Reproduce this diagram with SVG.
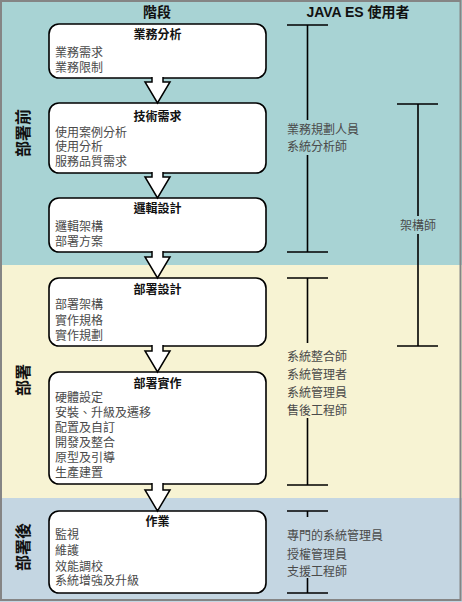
<svg xmlns="http://www.w3.org/2000/svg" width="462" height="602" viewBox="0 0 462 602">
<style>
.box{fill:#fff;stroke:#000;stroke-width:1.6}
.arr{fill:#fff;stroke:#000;stroke-width:1.5;stroke-linejoin:miter}
.br{stroke:#000;stroke-width:1.6;fill:none}
.t{font-family:"Liberation Sans","Noto Sans CJK TC",sans-serif;font-size:12px;font-weight:bold;fill:#111;text-anchor:middle}
.i{font-family:"Liberation Sans","Noto Sans CJK TC",sans-serif;font-size:12px;fill:#4a4a4a}
.h{font-family:"Liberation Sans","Noto Sans CJK TC",sans-serif;font-size:14px;font-weight:bold;fill:#111;text-anchor:middle}
.s{font-family:"Liberation Sans","Noto Sans CJK TC",sans-serif;font-size:16px;font-weight:bold;fill:#111;text-anchor:middle}
</style>
<g id="bands">
<rect x="0" y="0" width="462" height="265" fill="#a8d3d4"/>
<rect x="0" y="265" width="462" height="233" fill="#f7f3d3"/>
<rect x="0" y="498" width="462" height="104" fill="#c4d6e2"/>
<rect x="1" y="1" width="459.5" height="599" fill="none" stroke="#858585" stroke-width="2"/>
</g>
<g id="headers">
<text class="h" x="157" y="17">階段</text>
<text class="h" x="358" y="17">JAVA ES 使用者</text>
</g>
<g id="phases">
<text class="s" transform="translate(29,133) rotate(-90)">部署前</text>
<text class="s" transform="translate(29,380) rotate(-90)">部署</text>
<text class="s" transform="translate(29,547) rotate(-90)">部署後</text>
</g>
<g id="n1">
<rect class="box" x="49" y="24" width="217" height="54" rx="10"/>
<text class="t" x="157.5" y="39">業務分析</text>
<text class="i" x="55" y="56.5">業務需求</text>
<text class="i" x="55" y="71.5">業務限制</text>
</g>
<g id="n2">
<rect class="box" x="49" y="103" width="217" height="70" rx="10"/>
<text class="t" x="157.5" y="120.5">技術需求</text>
<text class="i" x="55" y="136.5">使用案例分析</text>
<text class="i" x="55" y="151">使用分析</text>
<text class="i" x="55" y="165.5">服務品質需求</text>
</g>
<g id="n3">
<rect class="box" x="49" y="198" width="217" height="54" rx="10"/>
<text class="t" x="157.5" y="212.5">邏輯設計</text>
<text class="i" x="55" y="230.5">邏輯架構</text>
<text class="i" x="55" y="245.5">部署方案</text>
</g>
<g id="n4">
<rect class="box" x="49" y="278" width="217" height="68" rx="10"/>
<text class="t" x="157.5" y="293.5">部署設計</text>
<text class="i" x="55" y="308.5">部署架構</text>
<text class="i" x="55" y="324.5">實作規格</text>
<text class="i" x="55" y="339.5">實作規劃</text>
</g>
<g id="n5">
<rect class="box" x="49" y="372" width="217" height="112" rx="10"/>
<text class="t" x="157.5" y="387.5">部署實作</text>
<text class="i" x="55" y="401.5">硬體設定</text>
<text class="i" x="55" y="417">安裝、升級及遷移</text>
<text class="i" x="55" y="432">配置及自訂</text>
<text class="i" x="55" y="447">開發及整合</text>
<text class="i" x="55" y="462">原型及引導</text>
<text class="i" x="55" y="477">生產建置</text>
</g>
<g id="n6">
<rect class="box" x="49" y="511" width="217" height="82" rx="10"/>
<text class="t" x="157.5" y="526">作業</text>
<text class="i" x="55" y="539">監視</text>
<text class="i" x="55" y="554.5">維護</text>
<text class="i" x="55" y="570.5">效能調校</text>
<text class="i" x="55" y="584.5">系統增強及升級</text>
</g>
<g id="connectors">
<path class="arr" d="M152,77 L152,82 L145,82 L157.5,103 L170,82 L163,82 L163,77"/>
<path class="arr" d="M152,172 L152,177 L145,177 L157.5,198 L170,177 L163,177 L163,172"/>
<path class="arr" d="M152,251 L152,257 L145,257 L157.5,278 L170,257 L163,257 L163,251"/>
<path class="arr" d="M152,345 L152,351 L145,351 L157.5,372 L170,351 L163,351 L163,345"/>
<path class="arr" d="M152,483 L152,490 L145,490 L157.5,511 L170,490 L163,490 L163,483"/>
</g>
<g id="roles1">
<path class="br" d="M287,25 H328 M307.5,25 V120 M307.5,155 V252 M287,252 H328"/>
<text class="i" x="287" y="134">業務規劃人員</text>
<text class="i" x="287" y="151">系統分析師</text>
</g>
<g id="roles2">
<path class="br" d="M397,104 H438 M418,104 V216 M418,234 V346 M397,346 H438"/>
<text class="i" x="418" y="229.5" text-anchor="middle">架構師</text>
</g>
<g id="roles3">
<path class="br" d="M287,278 H328 M307.5,278 V343 M307.5,418 V485 M287,485 H328"/>
<text class="i" x="287" y="360.5">系統整合師</text>
<text class="i" x="287" y="378.5">系統管理者</text>
<text class="i" x="287" y="397">系統管理員</text>
<text class="i" x="287" y="414.5">售後工程師</text>
</g>
<g id="roles4">
<path class="br" d="M287,511 H328 M307.5,511 V517 M307.5,578 V593 M287,593 H328"/>
<text class="i" x="287" y="539.5">專門的系統管理員</text>
<text class="i" x="287" y="558.5">授權管理員</text>
<text class="i" x="287" y="576">支援工程師</text>
</g>
</svg>
